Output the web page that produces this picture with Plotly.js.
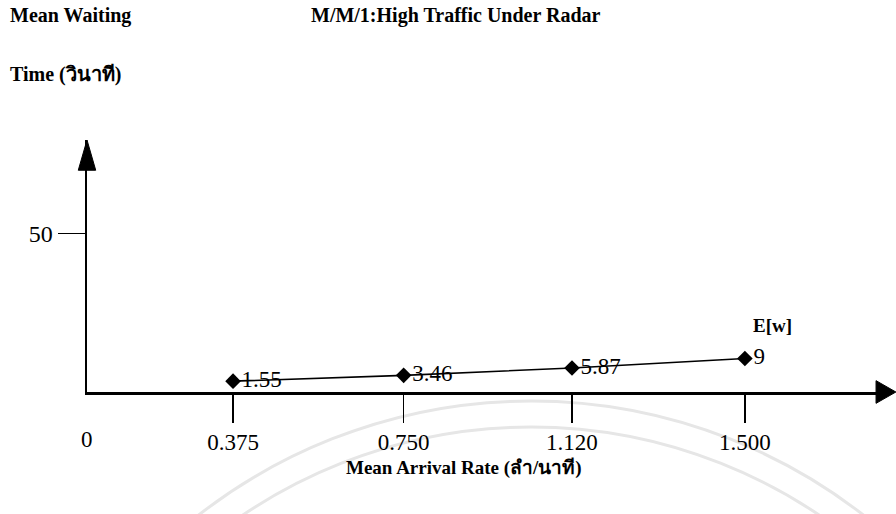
<!DOCTYPE html>
<html>
<head>
<meta charset="utf-8">
<script src="https://cdn.plot.ly/plotly-3.0.1.min.js"></script>
<style>
  body { margin: 0; background: #fff; }
  #chart { width: 896px; height: 514px; }
</style>
</head>
<body>
<div id="chart"></div>
<script>
// M/M/1 high traffic under radar - mean waiting time
var arrivalRate = [0.375, 0.750, 1.120, 1.500];
var waitTime = [1.55, 3.46, 5.87, 9];
var pointLabels = ["1.55", "3.46", "5.87", "9"];
var xTickLabels = ["0.375", "0.750", "1.120", "1.500"];
var yTickVals = [50];
var seriesName = "E[w]";

var serif = "Liberation Serif, Times New Roman, Noto Sans, serif";

var trace = {
    x: arrivalRate,
    y: waitTime,
    type: "scatter",
    mode: "lines+markers+text",
    text: pointLabels,
    textposition: "middle right",
    textfont: { family: serif, size: 23, color: "#000" },
    line: { color: "#000", width: 1.6 },
    marker: { symbol: "diamond", size: 12, color: "#000" },
    cliponaxis: false,
    hoverinfo: "skip"
};

// faint scanned watermark arcs (paper coords)
function arc(x0, x1, y0, y1) {
    return { type: "circle", xref: "paper", yref: "paper", layer: "below",
             x0: x0, x1: x1, y0: y0, y1: y1,
             line: { color: "#e6e6e6", width: 3 } };
}

var layout = {
    width: 896,
    height: 514,
    margin: { l: 87, r: 16, t: 140, b: 122 },
    paper_bgcolor: "#fff",
    plot_bgcolor: "rgba(0,0,0,0)",
    showlegend: false,
    font: { family: serif, color: "#000" },
    xaxis: {
        range: [0.054, 1.797],
        tickmode: "array",
        tickvals: arrivalRate,
        ticktext: xTickLabels,
        ticks: "outside",
        ticklen: 28,
        tickwidth: 1.5,
        tickcolor: "#000",
        tickfont: { family: serif, size: 23, color: "#000" },
        showgrid: false,
        zeroline: false,
        showline: true,
        linecolor: "#000",
        linewidth: 2.5
    },
    yaxis: {
        range: [-2, 80.6],
        tickmode: "array",
        tickvals: yTickVals,
        ticktext: yTickVals.map(String),
        ticks: "outside",
        ticklen: 27,
        tickwidth: 1.5,
        tickcolor: "#000",
        tickfont: { family: serif, size: 24, color: "#000" },
        showgrid: false,
        zeroline: false,
        showline: true,
        linecolor: "#000",
        linewidth: 2.5
    },
    shapes: [
        arc(-0.1223, 1.2421, -4.329, -0.0357),
        arc(-0.0895, 1.2093, -4.226, -0.1389),
        // y axis arrow head
        { type: "path", xref: "paper", yref: "paper",
          path: "M -0.011 0.88 L 0 1.0 L 0.011 0.88 Z",
          fillcolor: "#000", line: { color: "#000", width: 1 } },
        // x axis arrow head
        { type: "path", xref: "paper", yref: "paper",
          path: "M 0.995 0.045 L 1.02 0 L 0.995 -0.045 Z",
          fillcolor: "#000", line: { color: "#000", width: 1 } }
    ],
    annotations: [
        { text: "<b>Mean Waiting</b>", xref: "paper", yref: "paper",
          x: -0.1, y: 1.496, xanchor: "left", yanchor: "middle",
          showarrow: false, font: { family: serif, size: 20 } },
        { text: "<b>Time (วินาที)</b>", xref: "paper", yref: "paper",
          x: -0.1, y: 1.258, xanchor: "left", yanchor: "middle",
          showarrow: false, font: { family: serif, size: 20 } },
        { text: "<b>M/M/1:High Traffic Under Radar</b>", xref: "paper", yref: "paper",
          x: 0.28, y: 1.496, xanchor: "left", yanchor: "middle",
          showarrow: false, font: { family: serif, size: 20 } },
        { text: "<b>" + seriesName + "</b>", xref: "paper", yref: "paper",
          x: 0.864, y: 0.265, xanchor: "center", yanchor: "middle",
          showarrow: false, font: { family: serif, size: 19 } },
        { text: "0", xref: "paper", yref: "paper",
          x: 0, y: -0.19, xanchor: "center", yanchor: "middle",
          showarrow: false, font: { family: serif, size: 23 } },
        { text: "<b>Mean Arrival Rate (ลำ/นาที)</b>", xref: "paper", yref: "paper",
          x: 0.475, y: -0.3, xanchor: "center", yanchor: "middle",
          showarrow: false, font: { family: serif, size: 19 } }
    ]
};

Plotly.newPlot("chart", [trace], layout, { displayModeBar: false, staticPlot: true });
</script>
</body>
</html>
